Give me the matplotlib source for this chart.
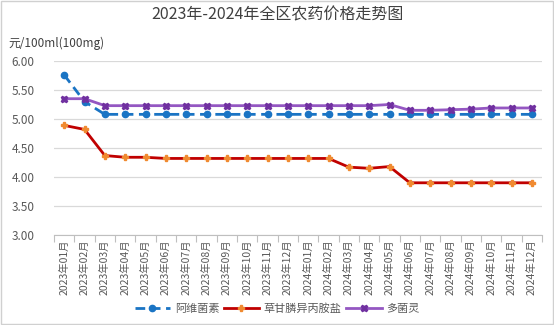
import matplotlib
matplotlib.use('Agg')
import matplotlib.pyplot as plt
from matplotlib.ticker import FixedLocator, NullFormatter

plt.rcParams['font.family'] = ['Noto Sans CJK SC', 'DejaVu Sans']

months = ['2023年01月', '2023年02月', '2023年03月', '2023年04月', '2023年05月', '2023年06月',
          '2023年07月', '2023年08月', '2023年09月', '2023年10月', '2023年11月', '2023年12月',
          '2024年01月', '2024年02月', '2024年03月', '2024年04月', '2024年05月', '2024年06月',
          '2024年07月', '2024年08月', '2024年09月', '2024年10月', '2024年11月', '2024年12月']

avermectin = [5.76, 5.30, 5.08, 5.08, 5.08, 5.08, 5.08, 5.08, 5.08, 5.08, 5.08, 5.08,
              5.08, 5.08, 5.08, 5.08, 5.08, 5.08, 5.08, 5.08, 5.08, 5.08, 5.08, 5.08]
glyphosate = [4.89, 4.82, 4.37, 4.34, 4.34, 4.32, 4.32, 4.32, 4.32, 4.32, 4.32, 4.32,
              4.32, 4.32, 4.17, 4.15, 4.18, 3.90, 3.90, 3.90, 3.90, 3.90, 3.90, 3.90]
carbendazim = [5.35, 5.35, 5.23, 5.23, 5.23, 5.23, 5.23, 5.23, 5.23, 5.23, 5.23, 5.23,
               5.23, 5.23, 5.23, 5.23, 5.25, 5.15, 5.15, 5.16, 5.17, 5.19, 5.19, 5.19]

yticks = [3.0, 3.5, 4.0, 4.5, 5.0, 5.5, 6.0]

fig = plt.figure(figsize=(5.54, 3.25), dpi=100)
ax = fig.add_axes([54 / 554, 1 - 235 / 325, 488 / 554, 174 / 325])

x = list(range(len(months)))
ax.plot(x, avermectin, color='#1a74c4', lw=2, ls=(0, (3.5, 2)), marker='o', ms=4.5,
        mfc='#1a74c4', mec='#1a74c4', label='阿维菌素', zorder=3)
ax.plot(x, glyphosate, color='#c00000', lw=2, marker='P', ms=4.5,
        mfc='#f08a30', mec='#f08a30', label='草甘膦异丙胺盐', zorder=3)
ax.plot(x, carbendazim, color='#9457c2', lw=2, marker='X', ms=5,
        mfc='#7030a0', mec='#7030a0', label='多菌灵', zorder=3)

ax.set_xlim(-0.5, len(months) - 0.5)
ax.set_ylim(3.0, 6.0)
ax.set_yticks(yticks)
ax.set_yticklabels([f'{v:.2f}' for v in yticks], color='#595959', fontsize=8.5)
ax.tick_params(axis='y', length=0, pad=14)
ax.yaxis.grid(True, color='#d9d9d9', lw=0.9)
ax.set_axisbelow(True)

ax.set_xticks(x)
ax.set_xticklabels(months, rotation=90, fontsize=7.5, color='#595959')
ax.tick_params(axis='x', which='major', length=0, pad=3)
ax.xaxis.set_minor_locator(FixedLocator([i - 0.5 for i in range(len(months) + 1)]))
ax.xaxis.set_minor_formatter(NullFormatter())
ax.tick_params(axis='x', which='minor', length=5, color='#bfbfbf', width=0.8)

for side in ['top', 'right', 'left']:
    ax.spines[side].set_visible(False)
ax.spines['bottom'].set_color('#bfbfbf')

fig.text(0.5, 1 - 15 / 325, '2023年-2024年全区农药价格走势图', ha='center', va='center',
         fontsize=11.5, color='#404040')
fig.text(8 / 554, 1 - 43 / 325, '元/100ml(100mg)', ha='left', va='center',
         fontsize=8.5, color='#404040')

fig.legend(loc='center', bbox_to_anchor=(0.5, 1 - 309 / 325), ncol=3, frameon=False,
           fontsize=8, handlelength=3.2, columnspacing=0.4, handletextpad=0.4,
           labelcolor='#595959')

fig.patches.append(plt.Rectangle((0.002, 0.003), 0.996, 0.994, transform=fig.transFigure,
                                 fill=False, edgecolor='#d0d0d0', lw=1))

fig.savefig('out.png', dpi=100)
